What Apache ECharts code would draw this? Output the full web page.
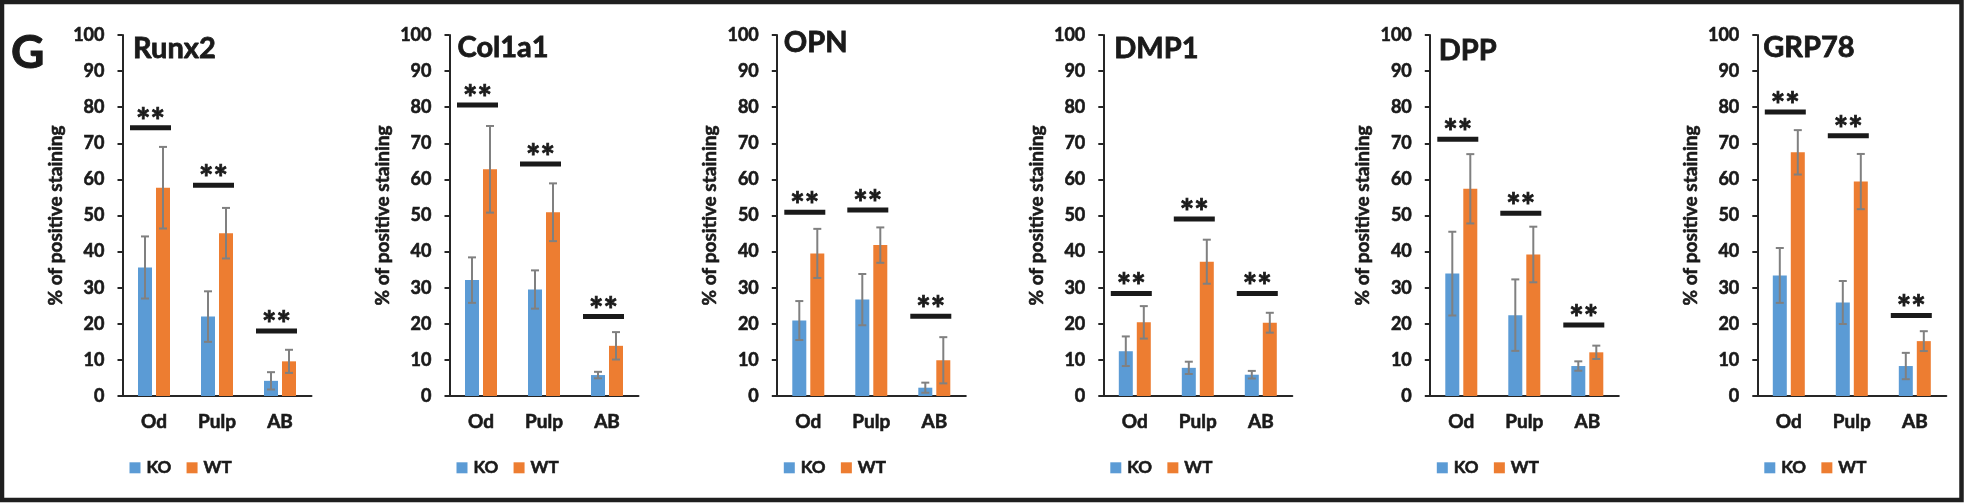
<!DOCTYPE html>
<html>
<head>
<meta charset="utf-8">
<script src="https://cdn.jsdelivr.net/npm/echarts@6/dist/echarts.min.js"></script>
<style>
html,body{margin:0;padding:0;background:#fff;}
#chart{width:1965px;height:504px;}
</style>
</head>
<body>
<div id="chart"></div>
<script>
// ---- data ----
var categories = ['Od', 'Pulp', 'AB'];
var panelTitles = ['Runx2', 'Col1a1', 'OPN', 'DMP1', 'DPP', 'GRP78'];
var seriesNames = ['KO', 'WT'];
var yTicks = [0, 10, 20, 30, 40, 50, 60, 70, 80, 90, 100];
var koMean = [
  [35.6, 22.0, 4.2],
  [32.1, 29.5, 5.8],
  [20.9, 26.7, 2.3],
  [12.4, 7.8, 5.9],
  [33.9, 22.4, 8.3],
  [33.4, 25.9, 8.3]
];
var koErr = [
  [8.6, 7.0, 2.4],
  [6.3, 5.3, 0.9],
  [5.4, 7.1, 1.4],
  [4.1, 1.7, 1.05],
  [11.6, 9.9, 1.3],
  [7.6, 5.95, 3.65]
];
var wtMean = [
  [57.7, 45.1, 9.6],
  [62.8, 50.9, 13.9],
  [39.5, 41.8, 9.9],
  [20.4, 37.2, 20.3],
  [57.4, 39.2, 12.1],
  [67.5, 59.4, 15.2]
];
var wtErr = [
  [11.3, 7.0, 3.2],
  [12.0, 8.0, 3.8],
  [6.8, 4.9, 6.4],
  [4.5, 6.1, 2.75],
  [9.6, 7.7, 1.85],
  [6.15, 7.65, 2.75]
];
var sigLevel = [
  [74.3, 58.4, 18.0],
  [80.6, 64.3, 22.0],
  [50.9, 51.5, 22.1],
  [28.4, 49.0, 28.4],
  [71.1, 50.6, 19.7],
  [78.7, 72.1, 22.3]
];
var sigText = '**';
var yAxisName = '% of positive staining';
var panelLetter = 'G';

// ---- layout / style (not data) ----
var FONT = 'Lato, "Open Sans", sans-serif';
var TXT = '#1a1a1a';
var BLUE = '#5B9BD5';
var ORANGE = '#ED7D31';
var ERR = '#808080';
var STROKE_W = 0.6;
var axisLeft = [122.5, 449.5, 776.8, 1103.3, 1429.8, 1757.3];
var titleDx = [10.5, 8, 7, 11, 9, 6];
var titleCy = [48.5, 48, 43, 48.5, 51, 47.5];
var GRID_TOP = 35, GRID_H = 361, GRID_W = 189;
var BAR_W = 14, BAR_GAP = 4;
var HALF = (BAR_W + BAR_GAP) / 2;

function ts(size, extra) {
  var o = {color: TXT, fontFamily: FONT, fontWeight: 'bold', fontSize: size,
           textBorderColor: TXT, textBorderWidth: STROKE_W};
  for (var k in extra) o[k] = extra[k];
  return o;
}

var chart = echarts.init(document.getElementById('chart'), null, {renderer: 'canvas'});

var grids = [], xAxes = [], yAxes = [], series = [], titles = [], legends = [], graphics = [];

function errRender(offset) {
  return function (params, api) {
    var cat = api.value(0), lo = api.value(1), hi = api.value(2);
    var p1 = api.coord([cat, hi]);
    var p2 = api.coord([cat, lo]);
    var x = p1[0] + offset;
    var st = {stroke: ERR, lineWidth: 2};
    return {
      type: 'group',
      children: [
        {type: 'line', shape: {x1: x, y1: p1[1], x2: x, y2: p2[1]}, style: st},
        {type: 'line', shape: {x1: x - 4, y1: p1[1], x2: x + 4, y2: p1[1]}, style: st},
        {type: 'line', shape: {x1: x - 4, y1: p2[1], x2: x + 4, y2: p2[1]}, style: st}
      ]
    };
  };
}

function sigRender(params, api) {
  var cat = api.value(0), v = api.value(1);
  var p = api.coord([cat, v]);
  var x0 = p[0] - 24, x1 = p[0] + 17;
  var cx = (x0 + x1) / 2;
  return {
    type: 'group',
    children: [
      {type: 'rect', shape: {x: x0, y: p[1] - 2.5, width: x1 - x0, height: 5}, style: {fill: TXT}},
      {type: 'text', x: cx, y: p[1] - 6, style: {text: sigText, align: 'center', verticalAlign: 'middle',
        font: 'bold 34px ' + FONT, fill: TXT, stroke: TXT, lineWidth: 0.8}}
    ]
  };
}

for (var i = 0; i < panelTitles.length; i++) {
  grids.push({left: axisLeft[i], top: GRID_TOP, width: GRID_W, height: GRID_H, containLabel: false});
  xAxes.push({
    type: 'category', gridIndex: i, data: categories,
    axisLine: {lineStyle: {color: '#262626', width: 2}},
    axisTick: {show: false},
    axisLabel: ts(19, {margin: 16}),
    splitLine: {show: false}
  });
  yAxes.push({
    type: 'value', gridIndex: i, min: yTicks[0], max: yTicks[yTicks.length - 1], interval: yTicks[1] - yTicks[0],
    axisLine: {show: true, lineStyle: {color: '#262626', width: 2}},
    axisTick: {show: true, length: 5, lineStyle: {color: '#262626', width: 2}},
    axisLabel: ts(18, {margin: 18}),
    splitLine: {show: false}
  });
  graphics.push({
    type: 'text', x: axisLeft[i] - 66.5, y: GRID_TOP + GRID_H / 2, rotation: Math.PI / 2, silent: true,
    style: {text: yAxisName, align: 'center', verticalAlign: 'middle',
      font: 'bold 19px ' + FONT, fill: TXT, stroke: TXT, lineWidth: STROKE_W}
  });
  titles.push({
    text: panelTitles[i], left: axisLeft[i] + titleDx[i], top: titleCy[i] - 14.5, padding: 0,
    textStyle: ts(29, {textBorderWidth: 0.8})
  });
  legends.push({
    data: seriesNames, left: axisLeft[i] + 7, top: 459, padding: 0,
    itemWidth: 11, itemHeight: 11, itemGap: 15, icon: 'rect',
    textStyle: ts(17, {padding: [0, 0, 0, 1]}),
    selectedMode: false
  });
  series.push({
    name: seriesNames[0], type: 'bar', xAxisIndex: i, yAxisIndex: i,
    data: koMean[i], barWidth: BAR_W, barGap: (BAR_GAP / BAR_W * 100) + '%',
    itemStyle: {color: BLUE}, z: 2
  });
  series.push({
    name: seriesNames[1], type: 'bar', xAxisIndex: i, yAxisIndex: i,
    data: wtMean[i], barWidth: BAR_W, barGap: (BAR_GAP / BAR_W * 100) + '%',
    itemStyle: {color: ORANGE}, z: 2
  });
  var koE = [], wtE = [], sig = [];
  for (var c = 0; c < categories.length; c++) {
    koE.push([c, koMean[i][c] - koErr[i][c], koMean[i][c] + koErr[i][c]]);
    wtE.push([c, wtMean[i][c] - wtErr[i][c], wtMean[i][c] + wtErr[i][c]]);
    sig.push([c, sigLevel[i][c]]);
  }
  series.push({type: 'custom', xAxisIndex: i, yAxisIndex: i, data: koE, renderItem: errRender(-HALF), z: 5, encode: {x: 0, y: [1, 2]}});
  series.push({type: 'custom', xAxisIndex: i, yAxisIndex: i, data: wtE, renderItem: errRender(HALF), z: 5, encode: {x: 0, y: [1, 2]}});
  series.push({type: 'custom', xAxisIndex: i, yAxisIndex: i, data: sig, renderItem: sigRender, z: 6, encode: {x: 0, y: 1}});
}

titles.push({
  text: panelLetter, left: 11, top: 30, padding: 0,
  textStyle: ts(46, {textBorderWidth: 1})
});

graphics.push({
  type: 'rect', shape: {x: 2, y: 2, width: 1959.5, height: 498},
  style: {fill: 'none', stroke: '#1f1f1f', lineWidth: 4.5}, silent: true, z: 100
});

chart.setOption({
  backgroundColor: '#ffffff',
  animation: false,
  title: titles,
  legend: legends,
  grid: grids,
  xAxis: xAxes,
  yAxis: yAxes,
  series: series,
  graphic: graphics
});
</script>
</body>
</html>
